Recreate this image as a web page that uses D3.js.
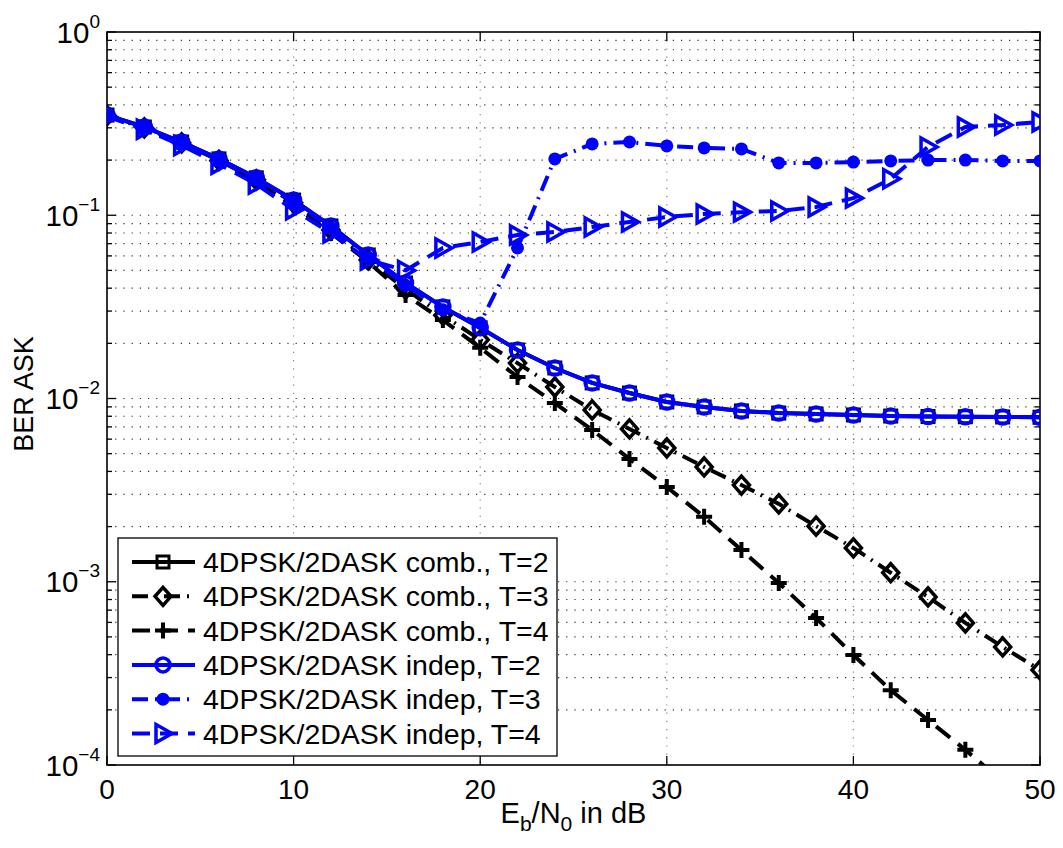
<!DOCTYPE html>
<html><head><meta charset="utf-8">
<script src="https://cdn.jsdelivr.net/npm/d3@7/dist/d3.min.js"></script>
<style>
body{margin:0;background:#fff;}
text{font-family:"Liberation Sans",Arial,Helvetica,sans-serif;fill:#000;}
</style></head>
<body><svg id="c" width="1063" height="848"></svg>
<script>
const snr = [0,2,4,6,8,10,12,14,16,18,20,22,24,26,28,30,32,34,36,38,40,42,44,46,48,50];
const combT2 = [0.352,0.303,0.251,0.203,0.160,0.121,0.0874,0.0607,0.0427,0.0316,0.0243,0.0184,0.01467,0.01216,0.01071,0.00957,0.00899,0.00855,0.00833,0.00823,0.00813,0.00802,0.00797,0.00795,0.00793,0.00790];
const combT3 = [0.350,0.300,0.248,0.199,0.156,0.117,0.083,0.057,0.0395,0.0285,0.0209,0.0156,0.01155,0.00866,0.00682,0.00537,0.00423,0.00337,0.00266,0.00201,0.00153,0.00112,0.000826,0.000596,0.000441,0.000330];
const combT4 = [0.348,0.297,0.245,0.196,0.152,0.113,0.080,0.0556,0.0367,0.0268,0.0189,0.0131,0.00945,0.00673,0.00468,0.00329,0.00226,0.00149,0.000985,0.000634,0.000398,0.000256,0.000176,0.000121,0.000081,0.000056];
const indepT2 = [0.352,0.303,0.251,0.203,0.160,0.121,0.0874,0.0607,0.0427,0.0316,0.0243,0.0184,0.01467,0.01216,0.01071,0.00957,0.00899,0.00855,0.00833,0.00823,0.00813,0.00802,0.00797,0.00795,0.00793,0.00790];
const indepT3 = [0.350,0.300,0.249,0.200,0.157,0.118,0.085,0.059,0.0415,0.0305,0.0258,0.0663,0.203,0.245,0.251,0.239,0.233,0.230,0.193,0.193,0.195,0.198,0.200,0.200,0.198,0.198];
const indepT4 = [0.345,0.295,0.240,0.190,0.148,0.107,0.080,0.057,0.050,0.0663,0.0715,0.078,0.081,0.0863,0.0919,0.0978,0.1016,0.104,0.1055,0.111,0.124,0.158,0.236,0.303,0.311,0.323];
const seriesNames = ["4DPSK/2DASK comb., T=2","4DPSK/2DASK comb., T=3","4DPSK/2DASK comb., T=4","4DPSK/2DASK indep, T=2","4DPSK/2DASK indep, T=3","4DPSK/2DASK indep, T=4"];
const xTicks = [0,10,20,30,40,50];
const yTickExps = [0,-1,-2,-3,-4];
const xLabelMain = "E", xLabelSub1 = "b", xLabelMid = "/N", xLabelSub2 = "0", xLabelEnd = " in dB";
const yLabel = "BER ASK";

const L=107, R=1040, T=32, B=765;
const svg = d3.select("#c");
const x = d3.scaleLinear().domain([0,50]).range([L,R]);
const y = d3.scaleLog().domain([1e-4,1]).range([B,T]);

svg.append("defs").append("clipPath").attr("id","pc").append("rect")
  .attr("x",L).attr("y",T).attr("width",R-L).attr("height",B-T);

// grid
const grid = svg.append("g");
const minorVals = [];
for (let e=-4;e<0;e++) for (let m=1;m<10;m++) minorVals.push(m*Math.pow(10,e));
minorVals.push(1);
minorVals.forEach(v=>{
  if (v<=1e-4 || v>=1) return;
  grid.append("line").attr("x1",L).attr("x2",R).attr("y1",y(v)).attr("y2",y(v))
    .attr("stroke","#333").attr("stroke-width",1.2).attr("stroke-dasharray","1.2,7");
});
xTicks.forEach(t=>{
  if (t===0||t===50) return;
  grid.append("line").attr("x1",x(t)).attr("x2",x(t)).attr("y1",T).attr("y2",B)
    .attr("stroke","#888").attr("stroke-width",1.2).attr("stroke-dasharray","1.2,7");
});

// ticks (inside)
const tk = svg.append("g").attr("stroke","#000").attr("stroke-width",1.3);
xTicks.forEach(t=>{
  tk.append("line").attr("x1",x(t)).attr("x2",x(t)).attr("y1",B).attr("y2",B-9);
  tk.append("line").attr("x1",x(t)).attr("x2",x(t)).attr("y1",T).attr("y2",T+9);
});
minorVals.forEach(v=>{
  if (v<1e-4 || v>1) return;
  const major = Math.abs(Math.log10(v)-Math.round(Math.log10(v)))<1e-9;
  const len = major?9:5;
  tk.append("line").attr("x1",L).attr("x2",L+len).attr("y1",y(v)).attr("y2",y(v));
  tk.append("line").attr("x1",R).attr("x2",R-len).attr("y1",y(v)).attr("y2",y(v));
});

svg.append("rect").attr("x",L).attr("y",T).attr("width",R-L).attr("height",B-T)
  .attr("fill","none").attr("stroke","#000").attr("stroke-width",1.6);

// tick labels
xTicks.forEach(t=>{
  svg.append("text").attr("x",x(t)).attr("y",B+34).attr("text-anchor","middle")
    .attr("font-size",28).text(t);
});
yTickExps.forEach(e=>{
  const yy = y(Math.pow(10,e));
  const tx = svg.append("text").attr("x",100).attr("y",yy+10.5).attr("text-anchor","end").attr("font-size",29.5);
  tx.append("tspan").text("10");
  tx.append("tspan").attr("font-size",19).attr("dy",-15).text(e===0?"0":"\u2212"+(-e));
});

// axis labels
const xl = svg.append("text").attr("x",(L+R)/2).attr("y",823).attr("text-anchor","middle").attr("font-size",29);
xl.append("tspan").text(xLabelMain);
xl.append("tspan").attr("font-size",21).attr("dy",8).text(xLabelSub1);
xl.append("tspan").attr("dy",-8).text(xLabelMid);
xl.append("tspan").attr("font-size",21).attr("dy",8).text(xLabelSub2);
xl.append("tspan").attr("dy",-8).text(xLabelEnd);
svg.append("text").attr("transform","translate(33,394) rotate(-90)").attr("text-anchor","middle")
  .attr("font-size",27).text(yLabel);

const styles = [
  {data:combT2, color:"#000", dash:null, marker:"square"},
  {data:combT3, color:"#000", dash:"16,7,2,7", marker:"diamond"},
  {data:combT4, color:"#000", dash:"18,10", marker:"plus"},
  {data:indepT2, color:"#0000ff", dash:null, marker:"circle"},
  {data:indepT3, color:"#0000ff", dash:"16,7,2,7", marker:"dot"},
  {data:indepT4, color:"#0000ff", dash:"18,10", marker:"triangle"}
];

function drawMarker(g, type, cx, cy, color){
  if (type==="square"){
    g.append("rect").attr("x",cx-6).attr("y",cy-6).attr("width",12).attr("height",12)
      .attr("fill","none").attr("stroke",color).attr("stroke-width",3);
  } else if (type==="diamond"){
    g.append("path").attr("d",`M${cx},${cy-9}L${cx+8},${cy}L${cx},${cy+9}L${cx-8},${cy}Z`)
      .attr("fill","none").attr("stroke",color).attr("stroke-width",3.5);
  } else if (type==="plus"){
    g.append("path").attr("d",`M${cx-8},${cy}H${cx+8}M${cx},${cy-8}V${cy+8}`)
      .attr("stroke",color).attr("stroke-width",4);
  } else if (type==="circle"){
    g.append("circle").attr("cx",cx).attr("cy",cy).attr("r",7)
      .attr("fill","none").attr("stroke",color).attr("stroke-width",3.5);
  } else if (type==="dot"){
    g.append("circle").attr("cx",cx).attr("cy",cy).attr("r",6.5).attr("fill",color);
  } else if (type==="triangle"){
    g.append("path").attr("d",`M${cx+9},${cy}L${cx-7},${cy-9}L${cx-7},${cy+9}Z`)
      .attr("fill","none").attr("stroke",color).attr("stroke-width",3.5).attr("stroke-linejoin","miter");
  }
}

const plot = svg.append("g").attr("clip-path","url(#pc)");
const line = d3.line().x((d,i)=>x(snr[i])).y(d=>y(d));
styles.forEach(s=>{
  const g = plot.append("g");
  g.append("path").datum(s.data).attr("d",line).attr("fill","none").attr("stroke",s.color)
    .attr("stroke-width",4).attr("stroke-dasharray",s.dash).attr("stroke-linejoin","round");
  s.data.forEach((v,i)=>drawMarker(g,s.marker,x(snr[i]),y(v),s.color));
});

// legend
const lg = svg.append("g");
lg.append("rect").attr("x",118).attr("y",538).attr("width",439).attr("height",218)
  .attr("fill","#fff").attr("stroke","#000").attr("stroke-width",1.3);
styles.forEach((s,i)=>{
  const yy = 562 + i*34.3;
  lg.append("line").attr("x1",132).attr("x2",195).attr("y1",yy).attr("y2",yy)
    .attr("stroke",s.color).attr("stroke-width",4).attr("stroke-dasharray",s.dash);
  drawMarker(lg,s.marker,163,yy,s.color);
  lg.append("text").attr("x",203).attr("y",yy+10).attr("font-size",28.5).text(seriesNames[i]);
});
</script></body></html>
